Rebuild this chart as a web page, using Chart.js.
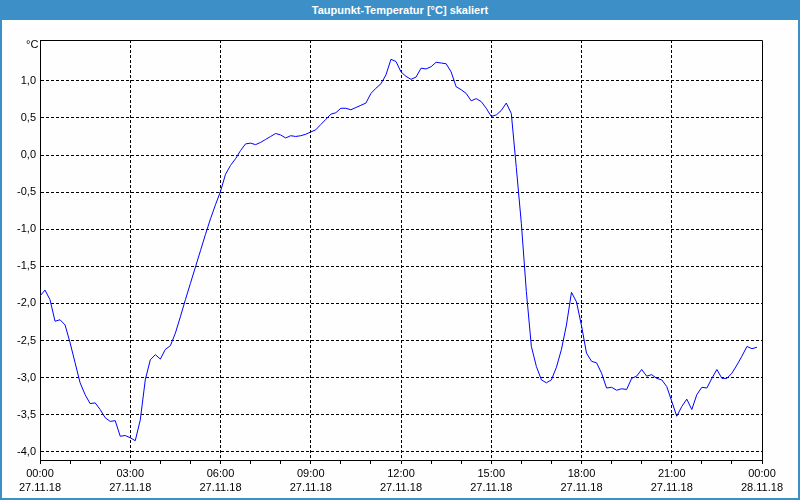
<!DOCTYPE html>
<html>
<head>
<meta charset="utf-8">
<script src="https://cdn.jsdelivr.net/npm/chart.js@4/dist/chart.umd.min.js"></script>
<style>
  html, body { margin: 0; padding: 0; background: #fdfefd; }
  #frame {
    position: relative; width: 800px; height: 500px; box-sizing: border-box;
    border: 2px solid #3d8fc7; border-top: none; background: #fdfefd; overflow: hidden;
  }
  #titlebar {
    position: absolute; left: 0; top: 0; width: 100%; height: 20px;
    background: #3d8fc7; color: #fff; font: bold 11px "Liberation Sans", sans-serif;
    text-align: center; line-height: 20px; z-index: 2;
  }
  #unit {
    position: absolute; left: 24px; top: 38px; font: 11px "Liberation Sans", sans-serif;
    color: #000; z-index: 2;
  }
  canvas { position: absolute; left: -2px; top: 0; }
</style>
</head>
<body>
<div id="frame">
  <div id="titlebar">Taupunkt-Temperatur [°C] skaliert</div>
  <div id="unit">°C</div>
  <canvas id="chart" width="800" height="500"></canvas>
</div>
<script>
// ── Data: dew point every 10 minutes, 27.11.18 ──────────────────────────────
const hours = [];            // x positions in hours since 00:00
for (let i = 0; i < 144; i++) hours.push(i / 6);

const dewPoint = [
  -1.90, -1.82, -1.95, -2.24, -2.22, -2.29, -2.53, -2.80, -3.07, -3.23,
  -3.35, -3.34, -3.43, -3.54, -3.59, -3.58, -3.79, -3.78, -3.81, -3.85,
  -3.57, -3.03, -2.76, -2.69, -2.75, -2.62, -2.57, -2.40, -2.18, -1.95,
  -1.73, -1.51, -1.29, -1.07, -0.86, -0.67, -0.49, -0.26, -0.14, -0.05,
   0.06,  0.15,  0.16,  0.14,  0.17,  0.21,  0.25,  0.29,  0.27,  0.23,
   0.26,  0.25,  0.26,  0.28,  0.31,  0.34,  0.41,  0.48,  0.55,  0.57,
   0.63,  0.63,  0.61,  0.64,  0.67,  0.70,  0.83,  0.90,  0.96,  1.08,
   1.29,  1.26,  1.12,  1.06,  1.02,  1.05,  1.17,  1.16,  1.19,  1.25,
   1.24,  1.23,  1.12,  0.92,  0.88,  0.83,  0.73,  0.76,  0.72,  0.63,
   0.52,  0.54,  0.60,  0.70,  0.56, -0.17, -0.92, -1.84, -2.58, -2.85,
  -3.03, -3.07, -3.03, -2.86, -2.62, -2.29, -1.85, -1.98, -2.30, -2.67,
  -2.78, -2.80, -2.94, -3.14, -3.13, -3.17, -3.15, -3.16, -3.01, -2.98,
  -2.89, -2.98, -2.96, -3.01, -3.03, -3.12, -3.32, -3.52, -3.39, -3.29,
  -3.43, -3.23, -3.13, -3.14, -3.01, -2.89, -3.01, -3.01, -2.94, -2.83,
  -2.71, -2.58, -2.61, -2.59
];

const timeLabels = ["00:00", "03:00", "06:00", "09:00", "12:00", "15:00", "18:00", "21:00", "00:00"];
const dateLabels = ["27.11.18", "27.11.18", "27.11.18", "27.11.18", "27.11.18",
                    "27.11.18", "27.11.18", "27.11.18", "28.11.18"];

const FONT = { family: "Liberation Sans, sans-serif", size: 11 };

// top + right frame of the plot area
const frameBox = {
  id: "frameBox",
  afterDraw(chart) {
    const { ctx, chartArea: a } = chart;
    ctx.save();
    ctx.strokeStyle = "#000";
    ctx.lineWidth = 1;
    ctx.beginPath();
    ctx.moveTo(a.left, a.top + 0.5);
    ctx.lineTo(a.right + 0.5, a.top + 0.5);
    ctx.lineTo(a.right + 0.5, a.bottom);
    ctx.stroke();
    ctx.restore();
  }
};

new Chart(document.getElementById("chart"), {
  type: "line",
  data: {
    datasets: [{
      data: hours.map((h, i) => ({ x: h, y: dewPoint[i] })),
      borderColor: "#0000ff",
      borderWidth: 1,
      pointRadius: 0,
      tension: 0,
      fill: false,
    }]
  },
  options: {
    responsive: false,
    animation: false,
    layout: { padding: { left: 2, top: 40, right: 38, bottom: 0 } },
    plugins: { legend: { display: false }, tooltip: { enabled: false } },
    scales: {
      x: {
        type: "linear",
        min: 0, max: 24,
        afterFit: s => { s.height = 40; },
        afterBuildTicks: s => { s.ticks = Array.from({ length: 25 }, (_, i) => ({ value: i })); },
        ticks: {
          autoSkip: false, maxRotation: 0, color: "#000", font: { ...FONT, lineHeight: 1.36 }, padding: 2,
          callback: v => v % 3 === 0 ? [timeLabels[v / 3], dateLabels[v / 3]] : ""
        },
        grid: {
          color: c => (c.tick && c.tick.value % 3 === 0 && c.tick.value > 0 && c.tick.value < 24) ? "#000" : "rgba(0,0,0,0)",
          tickColor: "#000", tickLength: 4, lineWidth: 1
        },
        border: { color: "#000", width: 1, dash: [3, 2] }
      },
      y: {
        min: -4.11, max: 1.55,
        afterFit: s => { s.width = 38; },
        afterBuildTicks: s => {
          const t = [];
          for (let v = -4; v <= 1.0001; v += 0.5) t.push({ value: Math.round(v * 10) / 10 });
          s.ticks = t;
        },
        ticks: {
          color: "#000", font: FONT, padding: 4,
          callback: v => Number(v).toFixed(1).replace(".", ",")
        },
        grid: { color: "#000", drawTicks: false, lineWidth: 1 },
        border: { color: "#000", width: 1, dash: [3, 2] }
      }
    }
  },
  plugins: [frameBox]
});
</script>
</body>
</html>
